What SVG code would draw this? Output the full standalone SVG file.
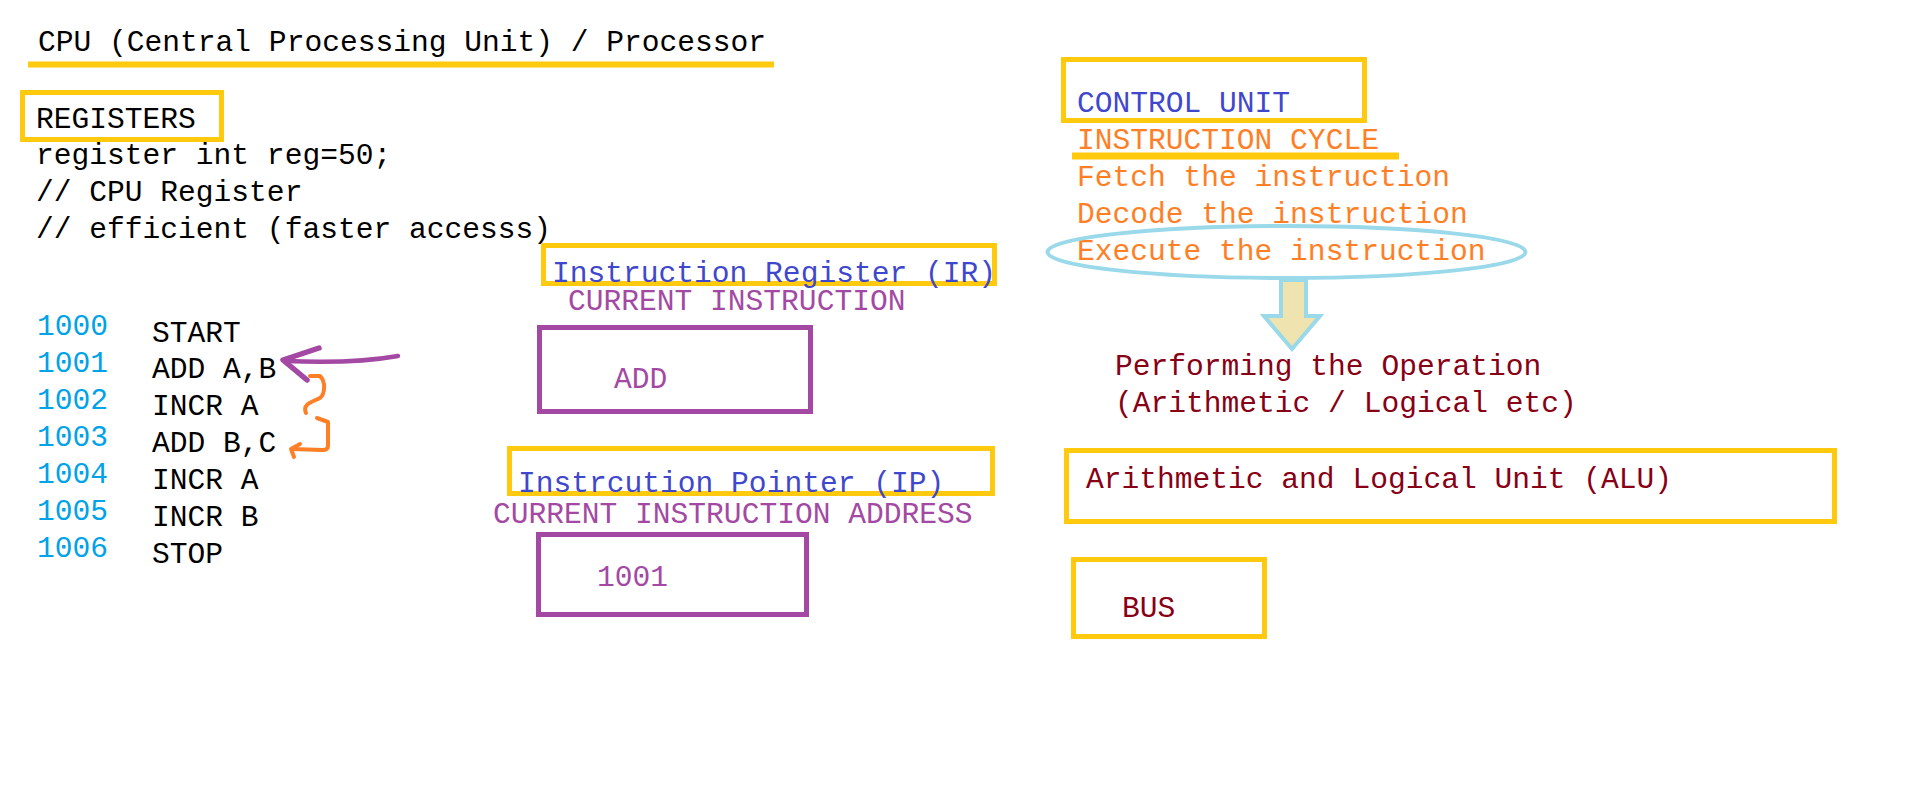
<svg xmlns="http://www.w3.org/2000/svg" width="1914" height="806" viewBox="0 0 1914 806">
<style>
text{font-family:"Liberation Mono","DejaVu Sans Mono",monospace;font-size:29.6px;}
.k{fill:#000}
.b{fill:#3f48cc}
.p{fill:#a349a4}
.a{fill:#00a2e8}
.o{fill:#ff7f27}
.r{fill:#880015}
.yb{fill:none;stroke:#ffc90e;stroke-width:5}
.pb{fill:none;stroke:#a349a4;stroke-width:5}
.yl{stroke:#ffc90e;fill:none}
</style>
<rect width="1914" height="806" fill="#fff"/>
<g id="title">
<text class="k" x="38" y="51">CPU (Central Processing Unit) / Processor</text>
<line class="yl" x1="28" y1="64.5" x2="774" y2="64.5" stroke-width="6"/>
</g>
<g id="registers">
<rect class="yb" x="22.5" y="92.5" width="199" height="47"/>
<text class="k" x="36" y="128">REGISTERS</text>
<text class="k" x="36" y="164">register int reg=50;</text>
<text class="k" x="36" y="201">// CPU Register</text>
<text class="k" x="36" y="238">// efficient (faster accesss)</text>
</g>
<g id="program">
<text class="a" x="37" y="335">1000</text>
<text class="a" x="37" y="372">1001</text>
<text class="a" x="37" y="409">1002</text>
<text class="a" x="37" y="446">1003</text>
<text class="a" x="37" y="483">1004</text>
<text class="a" x="37" y="520">1005</text>
<text class="a" x="37" y="557">1006</text>
<text class="k" x="152" y="342">START</text>
<text class="k" x="152" y="378">ADD A,B</text>
<text class="k" x="152" y="415">INCR A</text>
<text class="k" x="152" y="452">ADD B,C</text>
<text class="k" x="152" y="489">INCR A</text>
<text class="k" x="152" y="526">INCR B</text>
<text class="k" x="152" y="563">STOP</text>
</g>
<g id="instruction-register">
<rect class="yb" x="543.5" y="245.5" width="451" height="38"/>
<text class="b" x="552" y="282">Instruction Register (IR)</text>
<text class="p" x="568" y="310">CURRENT INSTRUCTION</text>
</g>
<g id="ir-value">
<rect class="pb" x="539.5" y="327.5" width="271" height="84"/>
<text class="p" x="614" y="388">ADD</text>
</g>
<g id="instruction-pointer">
<rect class="yb" x="509.5" y="448.5" width="483" height="45"/>
<text class="b" x="518" y="492">Instrcution Pointer (IP)</text>
<text class="p" x="493" y="523">CURRENT INSTRUCTION ADDRESS</text>
</g>
<g id="ip-value">
<rect class="pb" x="538.5" y="534.5" width="268" height="80"/>
<text class="p" x="597" y="586">1001</text>
</g>
<g id="control-unit">
<rect class="yb" x="1063.5" y="59.5" width="301" height="61"/>
<text class="b" x="1077" y="112">CONTROL UNIT</text>
</g>
<g id="instruction-cycle">
<text class="o" x="1077" y="149">INSTRUCTION CYCLE</text>
<line class="yl" x1="1072" y1="156" x2="1399" y2="156" stroke-width="7"/>
<text class="o" x="1077" y="186">Fetch the instruction</text>
<text class="o" x="1077" y="223">Decode the instruction</text>
<text class="o" x="1077" y="260">Execute the instruction</text>
<ellipse cx="1286.5" cy="252" rx="239" ry="26" fill="none" stroke="#99d9ea" stroke-width="4"/>
</g>
<g id="operation">
<text class="r" x="1115" y="375">Performing the Operation</text>
<text class="r" x="1115" y="412">(Arithmetic / Logical etc)</text>
</g>
<g id="alu">
<rect class="yb" x="1066.5" y="450.5" width="768" height="71"/>
<text class="r" x="1086" y="488">Arithmetic and Logical Unit (ALU)</text>
</g>
<g id="bus">
<rect class="yb" x="1073.5" y="559.5" width="191" height="77"/>
<text class="r" x="1122" y="617">BUS</text>
</g>
<g id="connectors">
<path d="M398,356 C370,361 330,363 285,361" fill="none" stroke="#a349a4" stroke-width="4.5" stroke-linecap="round"/>
<path d="M319,348 L283,360 L307,380" fill="none" stroke="#a349a4" stroke-width="5.5" stroke-linecap="round" stroke-linejoin="round"/>
<path d="M310,376 L320,376 C326,382 325,394 320,398 C312,402 302,404 306,413" fill="none" stroke="#ff7f27" stroke-width="4" stroke-linecap="round" stroke-linejoin="round"/>
<path d="M317,418 L328,422 L328,446 Q328,450 322,450 L292,449" fill="none" stroke="#ff7f27" stroke-width="4" stroke-linecap="round" stroke-linejoin="round"/>
<path d="M300,444 L291,449 L294,457" fill="none" stroke="#ff7f27" stroke-width="4" stroke-linecap="round" stroke-linejoin="round"/>
<polygon points="1281,280 1306,280 1306,316 1320,316 1292,349 1264,316 1281,316" fill="#efe4b0" stroke="#99d9ea" stroke-width="4"/>
</g>
</svg>
